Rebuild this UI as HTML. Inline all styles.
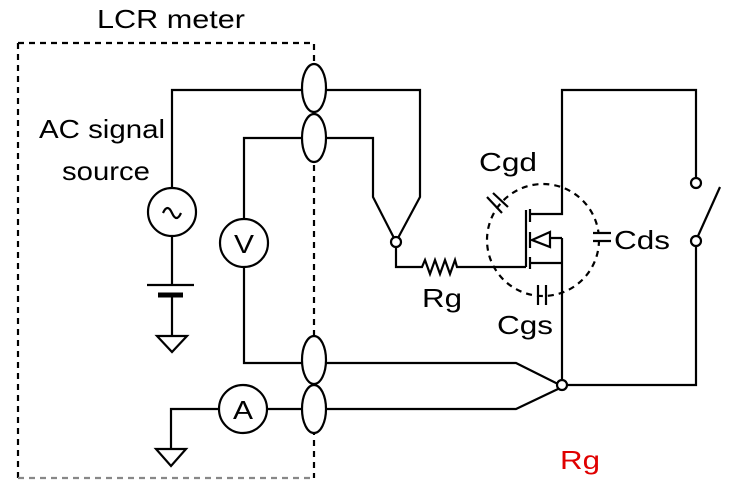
<!DOCTYPE html>
<html><head><style>
html,body{margin:0;padding:0;background:#fff;}
svg{display:block;}
text{font-family:"Liberation Sans",sans-serif;font-size:26px;fill:#000;}
</style></head><body>
<svg width="748" height="491" viewBox="0 0 748 491" xmlns="http://www.w3.org/2000/svg">
<g fill="none" stroke="#000" stroke-width="2.2">
<path d="M18 43 H314 V478" stroke-dasharray="6,5"/>
<path d="M18 43 V478" stroke-dasharray="6,5"/>
<path d="M18 478 H314" stroke="#888" stroke-dasharray="6,5"/>
<ellipse cx="314" cy="88" rx="12" ry="24" fill="#fff"/>
<ellipse cx="314" cy="138" rx="12" ry="24" fill="#fff"/>
<ellipse cx="314" cy="360" rx="12" ry="24" fill="#fff"/>
<ellipse cx="314" cy="409" rx="12" ry="24" fill="#fff"/>
<path d="M172 188 V90 H302 M326 90 H420 V197 L398 238"/>
<path d="M244 219 V138 H302 M326 138 H373 V197 L394 238"/>
<circle cx="396" cy="242" r="5" fill="#fff"/>
<path d="M396 247 V267 H422 l3 -7 l5 14 l5 -14 l5 14 l5 -14 l5 14 l5 -14 l2 7 H526"/>
<circle cx="172" cy="212" r="24"/>
<path d="M163 213 q4.5 -10 9 0 t9 0"/>
<path d="M172 236 V285 M147 285 H194"/>
<path d="M158 295 H183" stroke-width="5"/>
<path d="M172 297 V336 M157 336 H187 L172 352 Z"/>
<circle cx="244" cy="243" r="24"/>
<path d="M244 267 V363 H302 M326 363 H516 L558 384"/>
<path d="M171 449 V409 H219 M267 409 H302 M326 409 H516 L558 389"/>
<circle cx="243" cy="409" r="24"/>
<path d="M156 449 H186 L171 466 Z"/>
<path d="M526 210 V267"/>
<path d="M530 209 V222 M530 232 V248 M530 257 V269"/>
<path d="M530 214 H562 V90 H696 V178"/>
<path d="M530 263 H562"/>
<path d="M562 238 H550 M550 232 L532 240 L550 247 Z"/>
<path d="M562 238 V380"/>
<circle cx="562" cy="385" r="5" fill="#fff"/>
<path d="M567 385 H696 V246"/>
<circle cx="696" cy="183" r="5"/>
<circle cx="696" cy="241" r="5"/>
<path d="M698 236 L720 187"/>
<circle cx="543" cy="240" r="56" stroke-dasharray="6,5"/>
<path d="M487 197 L502 213 M493 193 L508 207"/>
<path d="M538 285 V305 M546 285 V305"/>
</g>
<rect x="589" y="234" width="26" height="6" fill="#fff"/>
<path d="M593 233 H611 M593 241 H611" stroke="#000" stroke-width="2.2"/>
<text x="97" y="28" textLength="148" lengthAdjust="spacingAndGlyphs">LCR meter</text>
<text x="39" y="138" textLength="126" lengthAdjust="spacingAndGlyphs">AC signal</text>
<text x="62" y="180" textLength="88" lengthAdjust="spacingAndGlyphs">source</text>
<text x="234" y="253" textLength="20" lengthAdjust="spacingAndGlyphs">V</text>
<text x="233" y="419" textLength="20" lengthAdjust="spacingAndGlyphs">A</text>
<text x="479" y="171" textLength="58" lengthAdjust="spacingAndGlyphs">Cgd</text>
<text x="614" y="249" textLength="56" lengthAdjust="spacingAndGlyphs">Cds</text>
<text x="422" y="307" textLength="40" lengthAdjust="spacingAndGlyphs">Rg</text>
<text x="497" y="334" textLength="56" lengthAdjust="spacingAndGlyphs">Cgs</text>
<text x="560" y="469" textLength="40" lengthAdjust="spacingAndGlyphs" style="fill:#e00000">Rg</text>
</svg>
</body></html>
